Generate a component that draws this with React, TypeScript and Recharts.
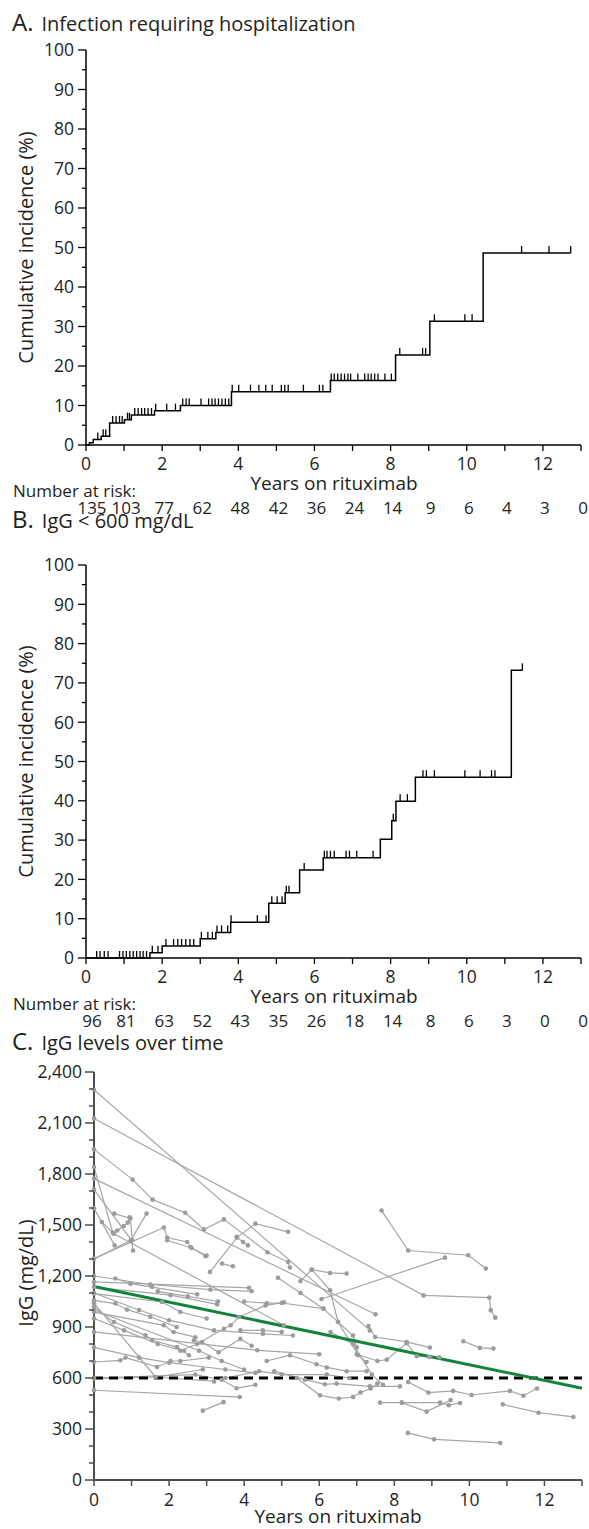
import { ComposedChart, Line, Scatter, XAxis, YAxis, Customized } from "recharts";

const FONT = '"Open Sans", sans-serif';
const INK = "#231f20";
const TICK_FS = 17.5;

const years = [0, 1, 2, 3, 4, 5, 6, 7, 8, 9, 10, 11, 12, 13];
const kmTicks = [0, 5, 10, 15, 20, 25, 30, 35, 40, 45, 50, 55, 60, 65, 70, 75, 80, 85, 90, 95, 100];
const igTicks = [0, 100, 200, 300, 400, 500, 600, 700, 800, 900, 1000, 1100, 1200, 1300, 1400, 1500, 1600, 1700, 1800, 1900, 2000, 2100, 2200, 2300, 2400];

// A. infection requiring hospitalization
const riskA = [135, 103, 77, 62, 48, 42, 36, 24, 14, 9, 6, 4, 3, 0];
const stepTimesA = [0, 0.09, 0.19, 0.4, 0.62, 1.01, 1.19, 1.8, 2.48, 3.82, 6.42, 8.13, 9.03, 10.43];
const stepValsA = [0, 0.6, 1.4, 2.2, 5.6, 6.4, 7.6, 8.7, 10.0, 13.5, 16.3, 22.8, 31.3, 48.6];
const endA = 12.73;
const censorA = [0.31, 0.45, 0.52, 0.7, 0.79, 0.88, 0.95, 1.09, 1.14, 1.28, 1.37, 1.46, 1.54, 1.63, 1.72, 1.83, 2.12, 2.35, 2.54, 2.63, 2.71, 3.02, 3.22, 3.31, 3.39, 3.48, 3.57, 3.66, 3.75, 3.84, 4.01, 4.32, 4.54, 4.72, 4.89, 5.13, 5.22, 5.31, 5.71, 6.13, 6.22, 6.44, 6.52, 6.61, 6.7, 6.79, 6.88, 6.95, 7.14, 7.32, 7.41, 7.49, 7.58, 7.67, 7.85, 8.02, 8.24, 8.84, 8.92, 9.15, 9.95, 10.14, 11.44, 12.16, 12.73];

// B. IgG < 600 mg/dL
const riskB = [96, 81, 63, 52, 43, 35, 26, 18, 14, 8, 6, 3, 0, 0];
const stepTimesB = [0, 1.68, 2.0, 3.0, 3.41, 3.8, 4.8, 5.23, 5.61, 6.23, 7.73, 8.03, 8.14, 8.65, 11.17];
const stepValsB = [0, 1.35, 3.05, 4.9, 6.5, 9.1, 13.9, 16.6, 22.4, 25.5, 30.2, 34.9, 39.9, 46.0, 73.2];
const endB = 11.46;
const censorB = [0.28, 0.37, 0.48, 0.58, 0.88, 0.97, 1.06, 1.15, 1.24, 1.33, 1.42, 1.5, 1.59, 1.74, 1.89, 2.1, 2.3, 2.41, 2.51, 2.62, 2.73, 2.83, 3.03, 3.2, 3.32, 3.44, 3.56, 3.72, 3.81, 4.5, 4.73, 4.88, 5.02, 5.15, 5.26, 5.33, 5.73, 6.26, 6.33, 6.42, 6.52, 6.83, 6.92, 7.11, 7.54, 8.07, 8.25, 8.44, 8.85, 8.94, 9.15, 9.95, 10.35, 10.65, 10.74, 11.46];

// C. IgG trajectories [years, mg/dL]
const igPatients: [number, number][][] = [
  [[0, 2296], [7.35, 880]],
  [[0, 2126], [8.78, 1086], [10.53, 1073], [10.57, 998], [10.69, 955]],
  [[0, 1945], [1.03, 1767], [1.56, 1649], [2.43, 1572], [2.93, 1474], [3.46, 1533], [4.62, 1340], [5.17, 1282], [5.22, 1250]],
  [[0, 1773], [7.5, 975]],
  [[0, 1841], [0.5, 1455]],
  [[0, 1708], [1.0, 1410], [1.04, 1350]],
  [[0, 1598], [0.55, 1380]],
  [[0.21, 1518], [0.53, 1449], [5.06, 910]],
  [[0.54, 1567], [0.97, 1538], [1.02, 1410]],
  [[0.62, 1468], [0.79, 1494], [0.9, 1514], [0.95, 1545]],
  [[0, 1300], [0.98, 1410], [1.4, 1567]],
  [[0, 1302], [1.86, 1485], [1.95, 1426], [2.48, 1400], [2.57, 1371], [2.97, 1316]],
  [[1.95, 1410], [2.6, 1365], [3.0, 1320]],
  [[0, 1165], [4.13, 1130]],
  [[3.09, 1224], [3.81, 1426], [4.3, 1508], [5.17, 1460]],
  [[3.41, 1273], [3.7, 1257]],
  [[3.8, 1430], [3.97, 1400], [4.1, 1380]],
  [[0.57, 1185], [0.97, 1155], [1.55, 1135], [2.75, 1092]],
  [[0, 1135], [2.04, 1087], [3.28, 1033]],
  [[0, 1096], [1.81, 1047], [2.3, 988], [3.0, 950]],
  [[0, 1057], [0.57, 1038], [0.88, 1002], [1.5, 960], [2.2, 900]],
  [[0, 1018], [0.53, 929], [1.37, 851], [1.55, 822], [2.21, 782], [2.53, 734]],
  [[0, 988], [1.86, 910], [2.12, 871], [2.7, 840]],
  [[0, 871], [4.35, 763], [6.0, 740]],
  [[0, 694], [0.7, 704], [0.84, 720], [1.68, 665], [2.04, 700], [2.3, 700], [3.06, 720]],
  [[0, 596], [1.64, 606], [3.2, 580]],
  [[0, 528], [3.88, 488]],
  [[2.9, 408], [3.45, 458]],
  [[7.66, 1585], [8.37, 1350], [9.97, 1322], [10.44, 1244]],
  [[6.06, 1065], [9.35, 1308]],
  [[9.84, 816], [10.28, 777], [10.64, 773]],
  [[7.31, 906], [7.49, 841], [8.33, 812], [8.95, 779]],
  [[7.0, 740], [7.55, 700], [7.8, 708], [8.33, 805], [8.6, 728], [8.93, 724], [9.2, 722]],
  [[8.37, 576], [8.91, 514], [9.57, 524], [10.06, 500], [11.08, 524], [11.44, 496], [11.8, 538]],
  [[7.62, 455], [8.2, 455], [9.22, 455], [9.45, 440], [9.75, 453]],
  [[8.2, 455], [8.86, 402], [9.5, 470]],
  [[10.89, 445], [11.84, 396], [12.77, 371]],
  [[8.36, 277], [9.06, 239], [10.82, 218]],
  [[4.9, 1190], [5.5, 1100], [6.11, 1008], [6.9, 850], [7.0, 780]],
  [[4.6, 700], [5.22, 734], [5.93, 681], [6.2, 662], [6.73, 640], [7.26, 640]],
  [[4.8, 640], [5.62, 590], [6.15, 563], [6.46, 567], [7.35, 551], [8.15, 551]],
  [[5.4, 600], [6.02, 498], [6.52, 479], [6.9, 488], [7.1, 515], [7.37, 538], [7.55, 567]],
  [[2.3, 760], [2.75, 800], [3.46, 890], [3.64, 910], [3.86, 959], [4.57, 1027], [5.06, 1045]],
  [[2.66, 822], [2.88, 812], [3.32, 751], [3.9, 830], [4.2, 790]],
  [[0, 1100], [1.2, 1000], [2.0, 940], [3.2, 880], [4.5, 860], [5.3, 850]],
  [[0, 1000], [2.8, 760], [3.4, 700], [4.0, 650]],
  [[0, 950], [0.8, 880], [1.7, 800], [2.4, 760]],
  [[0, 1200], [1.5, 1150], [3.1, 1120], [4.2, 1110]],
  [[0, 1040], [1.64, 606], [2.9, 650]],
  [[1.7, 1110], [2.5, 1080], [3.3, 1050]],
  [[5.5, 1170], [5.8, 1238], [6.29, 1218], [6.73, 1214]],
  [[5.8, 1238], [6.29, 1116], [6.5, 930], [7.04, 734], [7.26, 694]],
  [[3.9, 880], [4.5, 880], [5.0, 871]],
  [[4.0, 1050], [4.6, 1040], [5.0, 1041], [6.11, 1008]],
  [[3.5, 600], [4.4, 640], [5.0, 620], [6.2, 620], [6.8, 600]],
  [[0, 780], [1.2, 720], [2.0, 690], [3.5, 650], [4.3, 630]],
  [[0, 600], [2.7, 620], [3.4, 590], [3.8, 540], [4.3, 560]],
  [[6.3, 870], [6.9, 800], [7.4, 620], [7.7, 560]],
];

const trendX = [0, 13];
const trendY = [1138, 540];
const thresholdY = 600;

const levelAt = (times: number[], vals: number[], t: number) => {
  let v = vals[0];
  times.forEach((s, i) => {
    if (s <= t) v = vals[i];
  });
  return v;
};

const stepSeries = (times: number[], vals: number[], end: number) => {
  const pts = times.map((t, i) => ({ t, v: vals[i] }));
  pts.push({ t: end, v: vals[vals.length - 1] });
  return pts;
};

const censorSeries = (cs: number[], times: number[], vals: number[]) =>
  cs.map((t) => ({ t, v: levelAt(times, vals, t) }));

const txt = { fontFamily: FONT, fill: INK };

const kmYTick = (props: any) => {
  const { x, y, payload } = props;
  const v = payload.value;
  const major = v % 10 === 0;
  return (
    <g>
      <line x1={x} x2={x - (major ? 8 : 4)} y1={y} y2={y} stroke="#000" strokeWidth={1.3} />
      {major && (
        <text x={x - 12} y={y} dy="0.36em" textAnchor="end" fontSize={TICK_FS} {...txt}>
          {v}
        </text>
      )}
    </g>
  );
};

const kmXTick = (risk: number[]) => (props: any) => {
  const { x, y, payload } = props;
  const v = payload.value;
  return (
    <g>
      <line x1={x} x2={x} y1={y} y2={y + 6} stroke="#000" strokeWidth={1.3} />
      {v % 2 === 0 && (
        <text x={x} y={y + 19} dy="0.36em" textAnchor="middle" fontSize={TICK_FS} {...txt}>
          {v}
        </text>
      )}
      <text x={x + (v === 0 ? 6 : 2)} y={y + 63} dy="0.36em" textAnchor="middle" fontSize={17} {...txt}>
        {risk[v]}
      </text>
    </g>
  );
};

const censorShape = (p: any) => (
  <line x1={p.cx} x2={p.cx} y1={p.cy} y2={p.cy - 7} stroke="#000" strokeWidth={1.3} />
);

function Title({ x, y, letter, text }: { x: number; y: number; letter: string; text: string }) {
  return (
    <text x={x} y={y} dy="0.36em" {...txt}>
      <tspan fontSize={24}>{letter}</tspan>
      <tspan dx={8} fontSize={20}>
        {text}
      </tspan>
    </text>
  );
}

type KmProps = {
  letter: string;
  title: string;
  titleY: number;
  height: number;
  plotTop: number;
  axisH: number;
  times: number[];
  vals: number[];
  end: number;
  censor: number[];
  risk: number[];
};

function KmPanel(p: KmProps) {
  const bottom = p.height - p.axisH;
  const mid = (p.plotTop + bottom) / 2;
  const labels = () => (
    <g>
      <Title x={12} y={p.titleY} letter={p.letter} text={p.title} />
      <text transform={`translate(26 ${mid}) rotate(-90)`} textAnchor="middle" dy="0.36em" fontSize={20} {...txt}>
        Cumulative incidence (%)
      </text>
      <text x={334} y={bottom + 38} dy="0.36em" textAnchor="middle" fontSize={19} {...txt}>
        Years on rituximab
      </text>
      <text x={13} y={bottom + 46} dy="0.36em" fontSize={17} {...txt}>
        Number at risk:
      </text>
    </g>
  );
  return (
    <ComposedChart width={589} height={p.height} margin={{ top: p.plotTop, right: 8, bottom: 0, left: 26 }}>
      <XAxis
        dataKey="t"
        type="number"
        domain={[0, 13]}
        ticks={years}
        interval={0}
        height={p.axisH}
        tickLine={false}
        tickSize={0}
        tickMargin={0}
        axisLine={{ stroke: "#000", strokeWidth: 1.5 }}
        tick={kmXTick(p.risk)}
      />
      <YAxis
        dataKey="v"
        type="number"
        domain={[0, 100]}
        ticks={kmTicks}
        interval={0}
        width={60}
        tickLine={false}
        tickSize={0}
        tickMargin={0}
        axisLine={{ stroke: "#000", strokeWidth: 1.5 }}
        tick={kmYTick}
      />
      <Line
        data={stepSeries(p.times, p.vals, p.end)}
        dataKey="v"
        type="stepAfter"
        stroke="#000"
        strokeWidth={1.5}
        dot={false}
        activeDot={false}
        isAnimationActive={false}
      />
      <Scatter
        data={censorSeries(p.censor, p.times, p.vals)}
        dataKey="v"
        shape={censorShape}
        isAnimationActive={false}
      />
      <Customized component={labels} />
    </ComposedChart>
  );
}

const igYTick = (props: any) => {
  const { x, y, payload } = props;
  const v = payload.value;
  const major = v % 300 === 0;
  return (
    <g>
      <line x1={x} x2={x - (major ? 9 : 5)} y1={y} y2={y} stroke="#4d4d4d" strokeWidth={1.5} />
      {major && (
        <text x={x - 12} y={y} dy="0.36em" textAnchor="end" fontSize={TICK_FS} {...txt}>
          {v.toLocaleString("en-US")}
        </text>
      )}
    </g>
  );
};

const igXTick = (props: any) => {
  const { x, y, payload } = props;
  const v = payload.value;
  return (
    <g>
      <line x1={x} x2={x} y1={y} y2={y + 6} stroke="#4d4d4d" strokeWidth={1.5} />
      {v % 2 === 0 && (
        <text x={x} y={y + 20} dy="0.36em" textAnchor="middle" fontSize={TICK_FS} {...txt}>
          {v}
        </text>
      )}
    </g>
  );
};

function IgPanel() {
  const labels = () => (
    <g>
      <Title x={12} y={19} letter="C." text="IgG levels over time" />
      <text transform="translate(26 248) rotate(-90)" textAnchor="middle" dy="0.36em" fontSize={20} {...txt}>
        IgG (mg/dL)
      </text>
      <text x={338} y={491} dy="0.36em" textAnchor="middle" fontSize={19} {...txt}>
        Years on rituximab
      </text>
    </g>
  );
  return (
    <ComposedChart width={589} height={504} margin={{ top: 47, right: 7, bottom: 0, left: 34 }}>
      <XAxis
        dataKey="t"
        type="number"
        domain={[0, 13]}
        ticks={years}
        interval={0}
        height={49}
        tickLine={false}
        tickSize={0}
        tickMargin={0}
        axisLine={{ stroke: "#4d4d4d", strokeWidth: 2 }}
        tick={igXTick}
      />
      <YAxis
        dataKey="v"
        type="number"
        domain={[0, 2400]}
        ticks={igTicks}
        interval={0}
        width={60}
        tickLine={false}
        tickSize={0}
        tickMargin={0}
        axisLine={{ stroke: "#4d4d4d", strokeWidth: 2 }}
        tick={igYTick}
      />
      {igPatients.map((pts, i) => (
        <Line
          key={i}
          data={pts.map(([t, v]) => ({ t, v }))}
          dataKey="v"
          type="linear"
          stroke="#a6a6a6"
          strokeWidth={1.2}
          dot={{ r: 2.3, fill: "#9c9c9c", stroke: "#9c9c9c", strokeWidth: 0 }}
          activeDot={false}
          isAnimationActive={false}
        />
      ))}
      <Line
        data={trendX.map((t) => ({ t, v: thresholdY }))}
        dataKey="v"
        stroke="#000"
        strokeWidth={3}
        strokeDasharray="9 6"
        dot={false}
        activeDot={false}
        isAnimationActive={false}
      />
      <Line
        data={trendX.map((t, i) => ({ t, v: trendY[i] }))}
        dataKey="v"
        stroke="#14843c"
        strokeWidth={3}
        dot={false}
        activeDot={false}
        isAnimationActive={false}
      />
      <Customized component={labels} />
    </ComposedChart>
  );
}

export default function App() {
  return (
    <div style={{ position: "absolute", left: 0, top: 0, width: 589, height: 1529, background: "#fff" }}>
      <div style={{ position: "absolute", left: 0, top: 0 }}>
        <KmPanel
          letter="A."
          title="Infection requiring hospitalization"
          titleY={25}
          height={525}
          plotTop={50}
          axisH={80}
          times={stepTimesA}
          vals={stepValsA}
          end={endA}
          censor={censorA}
          risk={riskA}
        />
      </div>
      <div style={{ position: "absolute", left: 0, top: 500 }}>
        <KmPanel
          letter="B."
          title="IgG < 600 mg/dL"
          titleY={22}
          height={540}
          plotTop={65}
          axisH={82}
          times={stepTimesB}
          vals={stepValsB}
          end={endB}
          censor={censorB}
          risk={riskB}
        />
      </div>
      <div style={{ position: "absolute", left: 0, top: 1025 }}>
        <IgPanel />
      </div>
    </div>
  );
}
